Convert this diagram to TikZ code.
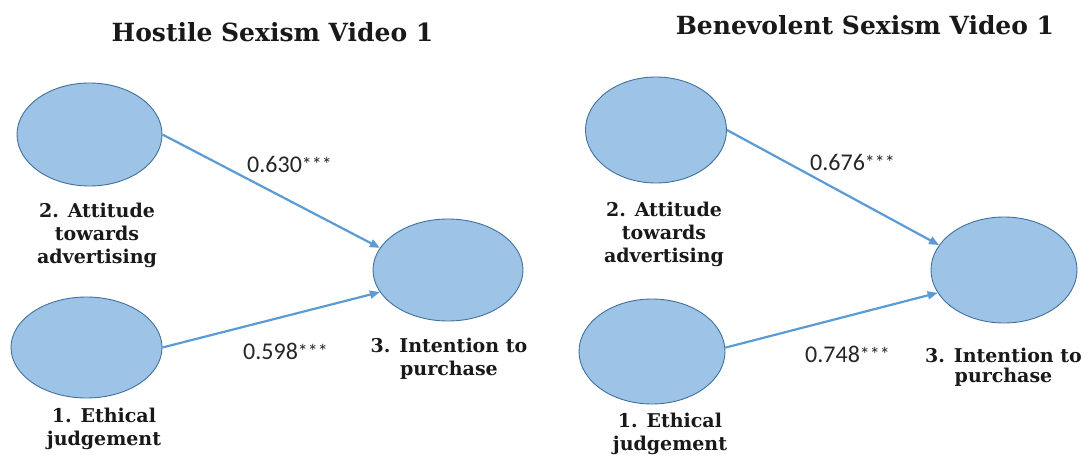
\documentclass[tikz,border=0pt]{standalone}
\usepackage{fontspec}
\usetikzlibrary{shapes.geometric,arrows.meta}
\newfontfamily\labelfont[BoldFont={DejaVu Serif Bold}]{DejaVu Serif}
\newfontfamily\numfont{Carlito}
\definecolor{latfill}{HTML}{9DC3E6}
\definecolor{latdraw}{HTML}{41719C}
\definecolor{pathcol}{HTML}{5B9BD5}
\tikzset{
  latent/.style={ellipse, fill=latfill, draw=latdraw, line width=0.9pt, inner sep=0pt},
  pathline/.style={draw=pathcol, line width=2.2pt, -{Triangle[length=10pt,width=8pt]}},
  coef/.style={font=\numfont\fontsize{24}{28}\selectfont, inner sep=0pt, anchor=west, text=black!85},
  lab/.style={font=\labelfont\bfseries\fontsize{19}{23}\selectfont, align=center, anchor=base, inner sep=0pt, text=black!90},
  ttl/.style={font=\labelfont\bfseries\fontsize{25}{28}\selectfont, anchor=base, inner sep=0pt, text=black!90}
}
\newcommand{\stars}{\raisebox{1pt}{\fontsize{20}{20}\selectfont ***}}
\begin{document}
\begin{tikzpicture}[x=1pt,y=-1pt]
\useasboundingbox (0,0) rectangle (1089,457);
% titles
\node[ttl] (t1) at (272.5,42) {Hostile Sexism Video 1};
\node[ttl] (t2) at (865,35) {Benevolent Sexism Video 1};
% left panel
\node[latent, minimum width=145pt, minimum height=103pt] (A1) at (89.5,134.5) {};
\node[latent, minimum width=150pt, minimum height=102pt] (C1) at (448,270) {};
\node[latent, minimum width=151pt, minimum height=101pt] (E1) at (86.5,347.5) {};
\node[lab] (lA1) at (97,263) {2. Attitude\\towards\\advertising};
\node[lab] (lC1) at (449,375) {3. Intention to\\purchase};
\node[lab] (lE1) at (104,445) {1. Ethical\\judgement};
\draw[pathline] (A1.east) -- (C1.162);
\draw[pathline] (E1.east) -- (C1.198);
\node[coef] (k1) at (247,164) {0.630\stars};
\node[coef] (k2) at (243,351) {0.598\stars};
% right panel
\node[latent, minimum width=141pt, minimum height=106pt] (A2) at (656,130) {};
\node[latent, minimum width=146pt, minimum height=106pt] (C2) at (1004,270) {};
\node[latent, minimum width=146pt, minimum height=105pt] (E2) at (652,351.5) {};
\node[lab] (lA2) at (664,262) {2. Attitude\\towards\\advertising};
\node[lab] (lC2) at (1003.5,382) {3. Intention to\\[-3pt]purchase};
\node[lab] (lE2) at (670,450) {1. Ethical\\judgement};
\draw[pathline] (A2.east) -- (C2.159);
\draw[pathline] (E2.3) -- (C2.199);
\node[coef] (k3) at (810,162) {0.676\stars};
\node[coef] (k4) at (805,354) {0.748\stars};
\end{tikzpicture}
\end{document}
